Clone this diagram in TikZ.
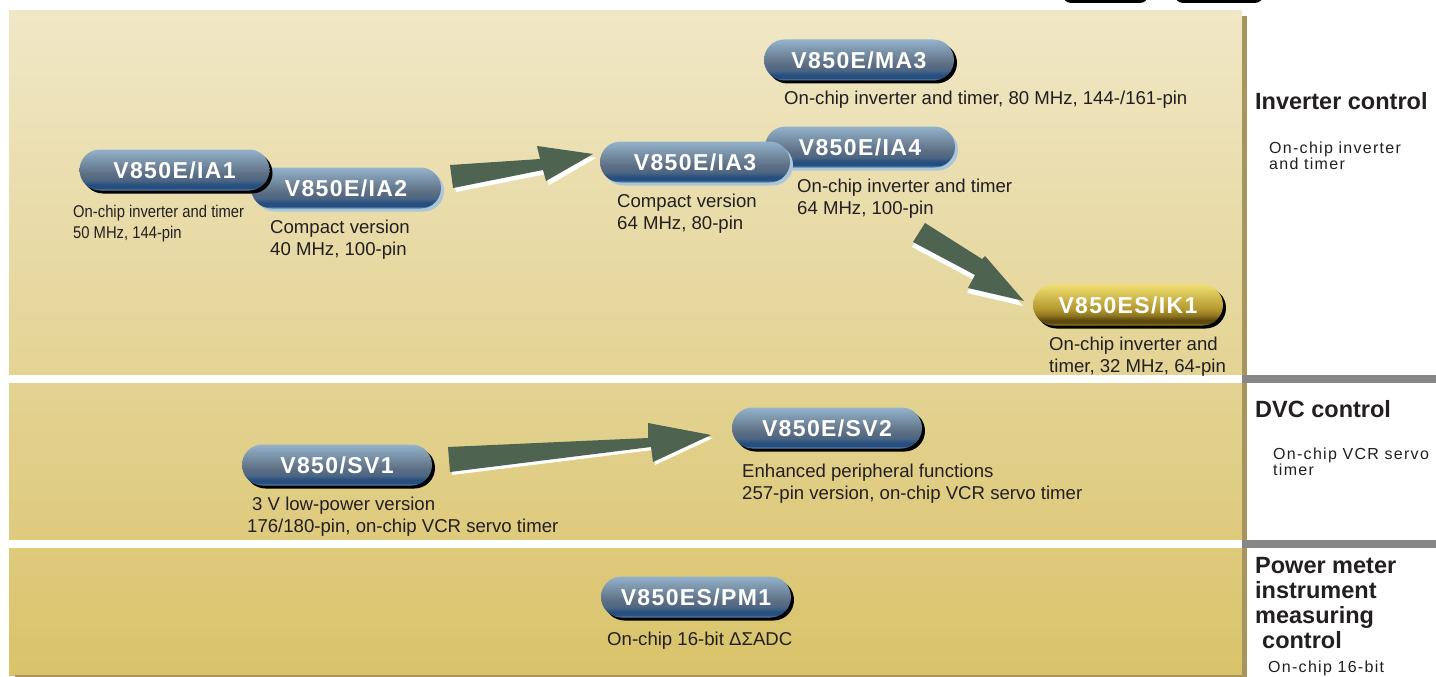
\documentclass[tikz,border=0pt]{standalone}
\usepackage{fontspec}
\setmainfont{Liberation Sans}
\newfontfamily\pillfont{Liberation Sans}[LetterSpace=6]
\newfontfamily\sidefont{Liberation Sans}[LetterSpace=8]
\newfontfamily\narrowfont{Liberation Sans}[FakeStretch=0.87]
\usetikzlibrary{shadows}

\definecolor{txt}{HTML}{231F20}
\definecolor{arrowgreen}{HTML}{4E6350}
\definecolor{pTop}{HTML}{93B3CA}
\definecolor{pMid}{HTML}{5D6E83}
\definecolor{pMidB}{HTML}{4A6583}
\definecolor{pDark}{HTML}{264E7E}
\definecolor{pLow}{HTML}{6A90B4}
\definecolor{gTop}{HTML}{F0DF6E}
\definecolor{gMid}{HTML}{B39830}
\definecolor{gMidB}{HTML}{8C7420}
\definecolor{gDark}{HTML}{5E4A0E}
\definecolor{gLow}{HTML}{A68E38}
\definecolor{rim}{HTML}{A9C6DA}
\definecolor{brownbar}{HTML}{A8955E}
\definecolor{greyline}{HTML}{878787}
\definecolor{panelTop}{HTML}{F0E7C6}
\definecolor{panelMid}{HTML}{E6D79C}
\definecolor{panelBot}{HTML}{D9C36A}

\pgfdeclareverticalshading{pillshade}{100bp}{color(0bp)=(pLow); color(25bp)=(pLow); color(28bp)=(pDark); color(32bp)=(pDark); color(37bp)=(pMidB); color(45bp)=(pMid); color(75bp)=(pTop); color(100bp)=(pTop)}
\pgfdeclareverticalshading{goldshade}{100bp}{color(0bp)=(gLow); color(25bp)=(gLow); color(28bp)=(gDark); color(32bp)=(gDark); color(37bp)=(gMidB); color(45bp)=(gMid); color(75bp)=(gTop); color(100bp)=(gTop)}

\tikzset{
  pill/.style={rectangle, rounded corners=20.5pt, minimum width=190pt, minimum height=41pt,
    inner sep=0pt, shade, shading=pillshade, text=white,
    font=\pillfont\bfseries\fontsize{23}{23}\selectfont},
  goldpill/.style={pill, shading=goldshade},
  darkshadow/.style={drop shadow={shadow xshift=3pt, shadow yshift=-3pt, fill=black, opacity=1}},
  rimshadow/.style={drop shadow={shadow xshift=3pt, shadow yshift=-3pt, fill=rim, opacity=1}},
  lbl/.style={anchor=base west, inner sep=0pt, align=left, text=txt,
    font=\fontsize{18.6}{22}\selectfont},
  narrowlbl/.style={lbl, font=\narrowfont\fontsize{17}{21}\selectfont},
  head/.style={anchor=base west, inner sep=0pt, align=left, text=txt,
    font=\bfseries\fontsize{23.5}{25}\selectfont},
  side/.style={anchor=base west, inner sep=0pt, align=left, text=txt,
    font=\sidefont\fontsize{16}{16}\selectfont},
  fatarrow/.style={fill=arrowgreen},
  arrowshadow/.style={fill=white},
}

\begin{document}
\begin{tikzpicture}[x=1pt,y=-1pt]
\useasboundingbox (0,0) rectangle (1436,677);
\fill[white] (0,0) rectangle (1436,677);

% top tabs (cut off)
\fill[black, rounded corners=8pt] (1063,-20) rectangle (1148,3);
\fill[black, rounded corners=8pt] (1175,-20) rectangle (1263,3);

% panel
\shade[top color=panelTop, middle color=panelMid, bottom color=panelBot] (9,11) rectangle (1242,675);
\fill[brownbar] (15,675) rectangle (1242,677);
\fill[brownbar] (1242,16) rectangle (1247,677);
\fill[white] (9,375) rectangle (1242,383);
\fill[white] (9,540) rectangle (1242,548);
\fill[greyline] (1242,375) rectangle (1436,383);
\fill[greyline] (1242,540) rectangle (1436,548);

% arrows with white shadows
\fill[arrowshadow] (451,169) -- (543,163) -- (540,150) -- (596,158) -- (549,185) -- (546,174) -- (456,192) -- cycle;
\fill[fatarrow] (450,165) -- (540,159) -- (537,146) -- (593,154) -- (546,181) -- (543,170) -- (453,188) -- cycle;

\fill[arrowshadow] (924,228) -- (981,264) -- (984,261) -- (1023,306) -- (967,293) -- (974,280) -- (912,247) -- cycle;
\fill[fatarrow] (925,223) -- (982,259) -- (985,256) -- (1024,301) -- (968,288) -- (975,275) -- (913,242) -- cycle;

\fill[arrowshadow] (450,450) -- (650,441) -- (650,426) -- (713,438) -- (655,465) -- (653,450) -- (452,475) -- cycle;
\fill[fatarrow] (448,447) -- (648,438) -- (648,423) -- (711,435) -- (653,462) -- (651,447) -- (450,472) -- cycle;

% pills
\node[pill, rimshadow] (ia2) at (346,188) {V850E/IA2};
\node[pill, darkshadow] (ia1) at (174.5,170) {V850E/IA1};
\node[pill, rimshadow] (ia4) at (860,147) {V850E/IA4};
\node[pill, rimshadow] (ia3) at (695,162) {V850E/IA3};
\node[pill, darkshadow] (ma3) at (859,60) {V850E/MA3};
\node[goldpill, darkshadow] (ik1) at (1128,305) {V850ES/IK1};
\node[pill, darkshadow] (sv1) at (337,465) {V850/SV1};
\node[pill, darkshadow] (sv2) at (827,428) {V850E/SV2};
\node[pill, darkshadow] (pm1) at (696,597) {V850ES/PM1};

% labels (base anchor = baseline of last line)
\node[narrowlbl] (lia1) at (73,238) {On-chip inverter and timer\\50 MHz, 144-pin};
\node[lbl] (lia2) at (270,255) {Compact version\\40 MHz, 100-pin};
\node[lbl] (lia3) at (617,229) {Compact version\\64 MHz, 80-pin};
\node[lbl] (lia4) at (797,214) {On-chip inverter and timer\\64 MHz, 100-pin};
\node[lbl] (lma3) at (784,105) {On-chip inverter and timer, 80 MHz, 144-/161-pin};
\node[lbl] (lik1) at (1049,372) {On-chip inverter and\\timer, 32 MHz, 64-pin};
\node[lbl] (lsv1) at (247,532) {\hspace{5pt}3 V low-power version\\176/180-pin, on-chip VCR servo timer};
\node[lbl] (lsv2) at (742,499) {Enhanced peripheral functions\\257-pin version, on-chip VCR servo timer};
\node[lbl] (lpm1) at (607,645) {On-chip 16-bit ΔΣADC};

% right column
\node[head] (hinv) at (1255,110) {Inverter control};
\node[side] (sinv) at (1269,169) {On-chip inverter\\and timer};
\node[head] (hdvc) at (1255,417) {DVC control};
\node[side] (sdvc) at (1273,475) {On-chip VCR servo\\timer};
\node[head] (hpm) at (1255,648) {Power meter\\instrument\\measuring\\\hspace{7pt}control};
\node[side] (spm) at (1268,672) {On-chip 16-bit};
\end{tikzpicture}
\end{document}
